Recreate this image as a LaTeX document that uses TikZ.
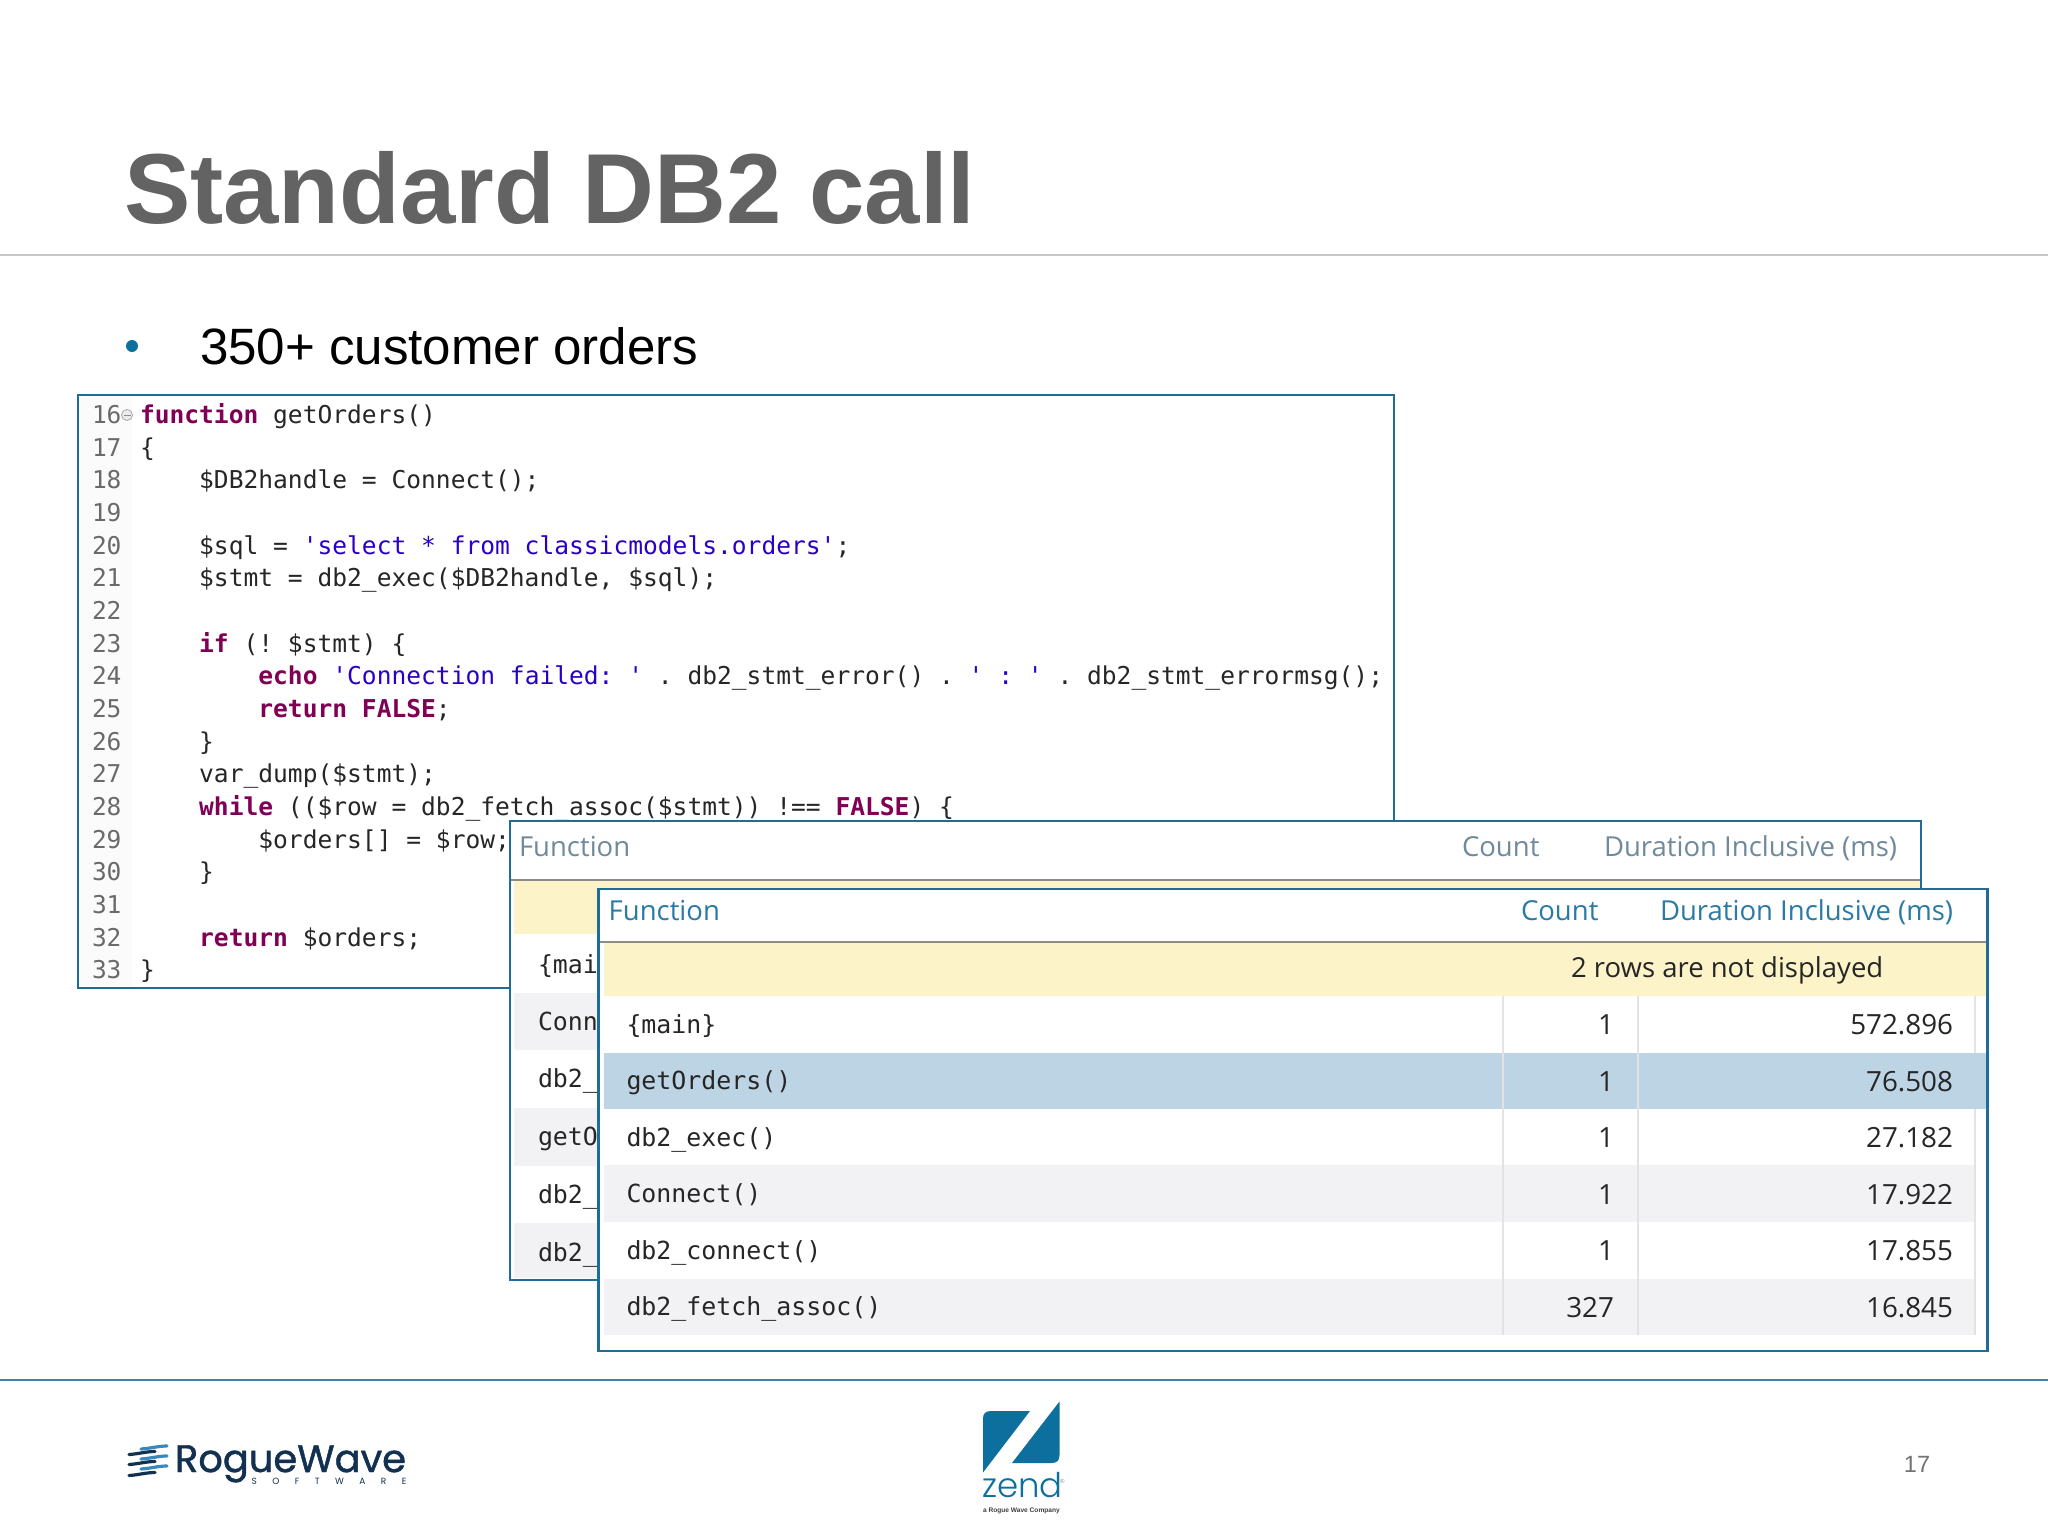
\documentclass[tikz,border=0pt]{standalone}
\usepackage{fontspec}
\setmainfont{Liberation Sans}
\newfontfamily\codefont{DejaVu Sans Mono}
\newfontfamily\uifont{Open Sans}
\newfontfamily\logofont{Poppins}[FakeBold=1.2]
\newfontfamily\swfont{Poppins}
\newfontfamily\zendfont{Poppins}[UprightFont=* Light]
\definecolor{boxblue}{HTML}{1F6D96}
\definecolor{titlegray}{HTML}{636363}
\definecolor{kwcol}{HTML}{7F0055}
\definecolor{strcol}{HTML}{2A00C8}
\definecolor{codecol}{HTML}{262626}
\definecolor{numcol}{HTML}{6A6A6A}
\definecolor{rowgray}{HTML}{F2F2F4}
\definecolor{rowyellow}{HTML}{FDF3C8}
\definecolor{rowblue}{HTML}{BDD4E5}
\definecolor{headfront}{HTML}{2A7AA6}
\definecolor{headback}{HTML}{6F8A9C}
\definecolor{zendblue}{HTML}{0D6F9E}
\definecolor{rwnavy}{HTML}{12304F}
\definecolor{rwlight}{HTML}{3A87BD}
\newcommand{\kw}[1]{\textcolor{kwcol}{\bfseries #1}}
\newcommand{\strg}[1]{\textcolor{strcol}{#1}}
\tikzset{
  base text/.style={inner sep=0pt,outer sep=0pt},
  codet/.style={base text,anchor=base west,font=\codefont\fontsize{24.58}{28}\selectfont\frenchspacing,text=codecol},
  numt/.style={base text,anchor=base west,font=\codefont\fontsize{24.5}{28}\selectfont,text=numcol},
  rowt/.style={base text,anchor=base west,font=\codefont\fontsize{24.9}{28}\selectfont\frenchspacing,text=codecol},
  numr/.style={base text,anchor=base east,font=\uifont\fontsize{27.8}{30}\selectfont,text=codecol},
  headf/.style={base text,anchor=base west,font=\uifont\fontsize{27.5}{30}\selectfont,text=headfront},
  headb/.style={base text,anchor=base west,font=\uifont\fontsize{27.5}{30}\selectfont,text=headback},
  panel/.style={draw=boxblue,line width=2.5pt,fill=white},
  sep/.style={draw=black!11,line width=1.5pt},
}
\newcommand{\cl}[3]{\node[codet] (code#1) at ({140+14.8*#2},{423.6+32.65*(#1-16)}) {#3};}
\begin{document}
\begin{tikzpicture}[x=1pt,y=-1pt]
\useasboundingbox (0,0) rectangle (2048,1536);
\fill[white] (0,0) rectangle (2048,1536);
% title
\node[base text,anchor=base west,font=\fontsize{99.5}{110}\selectfont\bfseries,text=titlegray] (title) at (124,223) {Standard DB2 call};
\draw[black!22,line width=2pt] (0,255) -- (2048,255);
\fill[zendblue] (132,346) circle (6);
\node[base text,anchor=base west,font=\fontsize{51.1}{60}\selectfont,text=black] (bullet) at (200,364.5) {350+ customer orders};
% code panel
\draw[panel] (78,395) rectangle (1394,988);
\fill[black!1.5] (80,397) rectangle (132,986);
\foreach \n in {16,...,33} { \node[numt] (num\n) at (92,{423.6+32.65*(\n-16)}) {\n}; }
\draw[black!35,fill=black!8,line width=.8pt] (127,415) circle (5.5);
\draw[black!45,line width=1pt] (123.5,415) -- (130.5,415);
\cl{16}{0}{\kw{function} getOrders()}
\cl{17}{0}{\{}
\cl{18}{4}{\$DB2handle = Connect();}
\cl{20}{4}{\$sql = \strg{'select * from classicmodels.orders'};}
\cl{21}{4}{\$stmt = db2\_exec(\$DB2handle, \$sql);}
\cl{23}{4}{\kw{if} (! \$stmt) \{}
\cl{24}{8}{\kw{echo} \strg{'Connection failed: '} . db2\_stmt\_error() . \strg{' : '} . db2\_stmt\_errormsg();}
\cl{25}{8}{\kw{return} \kw{FALSE};}
\cl{26}{4}{\}}
\cl{27}{4}{var\_dump(\$stmt);}
\cl{28}{4}{\kw{while} ((\$row = db2\_fetch\_assoc(\$stmt)) !== \kw{FALSE}) \{}
\cl{29}{8}{\$orders[] = \$row;}
\cl{30}{4}{\}}
\cl{32}{4}{\kw{return} \$orders;}
\cl{33}{0}{\}}
% middle panel
\draw[panel] (510,821) rectangle (1921,1280);
\fill[rowyellow] (514,880) rectangle (1920,934);
\fill[rowgray] (514,993) rectangle (598,1050);
\fill[rowgray] (514,1108) rectangle (598,1166);
\fill[rowgray] (514,1223) rectangle (598,1278);
\draw[black!45,line width=2pt] (511,880) -- (1920,880);
\node[headb] (mfunc) at (519,856) {Function};
\node[headb] (mcount) at (1462,856) {Count};
\node[headb] (mdur) at (1604,856) {Duration Inclusive (ms)};
\node[rowt] (m1) at (538,973) {\{mai};
\node[rowt] (m2) at (538,1030) {Conn};
\node[rowt] (m3) at (538,1087) {db2\_};
\node[rowt] (m4) at (538,1145) {getO};
\node[rowt] (m5) at (538,1203) {db2\_};
\node[rowt] (m6) at (538,1261) {db2\_};
% front panel
\draw[panel] (598.5,889) rectangle (1987.5,1351);
\fill[rowyellow] (604,943) rectangle (1986,996);
\fill[rowblue] (604,1052.5) rectangle (1986,1109);
\fill[rowgray] (604,1165) rectangle (1975,1222);
\fill[rowgray] (604,1278.6) rectangle (1975,1335);
\draw[black!45,line width=2pt] (600,942) -- (1986,942);
\foreach \sx in {1503,1638,1975} { \draw[sep] (\sx,996) -- (\sx,1335); }
\fill[rowblue] (1974,1052.5) rectangle (1986,1109);
\node[headf] (ffunc) at (608.7,920) {Function};
\node[headf] (fcount) at (1521,920) {Count};
\node[headf] (fdur) at (1660,920) {Duration Inclusive (ms)};
\node[base text,anchor=base west,font=\uifont\fontsize{27.5}{30}\selectfont,text=codecol] (hidden) at (1571,977.5) {2 rows are not displayed};
\node[rowt] (f1) at (626.5,1033) {\{main\}};
\node[rowt] (f2) at (626.5,1089) {getOrders()};
\node[rowt] (f3) at (626.5,1146) {db2\_exec()};
\node[rowt] (f4) at (626.5,1202) {Connect()};
\node[rowt] (f5) at (626.5,1259) {db2\_connect()};
\node[rowt] (f6) at (626.5,1315) {db2\_fetch\_assoc()};
\node[numr] (c1) at (1614,1034) {1};
\node[numr] (c2) at (1614,1091) {1};
\node[numr] (c3) at (1614,1147.5) {1};
\node[numr] (c4) at (1614,1204) {1};
\node[numr] (c5) at (1614,1260.5) {1};
\node[numr] (c6) at (1614,1317) {327};
\node[numr] (d1) at (1953,1034) {572.896};
\node[numr] (d2) at (1953,1091) {76.508};
\node[numr] (d3) at (1953,1147.5) {27.182};
\node[numr] (d4) at (1953,1204) {17.922};
\node[numr] (d5) at (1953,1260.5) {17.855};
\node[numr] (d6) at (1953,1317) {16.845};
% footer
\draw[boxblue!85,line width=2pt] (0,1380) -- (2048,1380);
\node[base text,anchor=base,font=\fontsize{23.5}{28}\selectfont,text=black!55] (pagenum) at (1917,1472) {17};
% rogue wave logo
\foreach \yy in {1453,1463,1474} {
  \draw[rwnavy,line width=3.2pt,line cap=round] (129,\yy+1.5) .. controls (138,\yy+1) and (146,\yy-1.5) .. (155,\yy-1.5);
}
\foreach \yy in {1447.5,1457.5,1467.5} {
  \draw[rwlight,line width=3.2pt,line cap=round] (141,\yy+1.5) .. controls (150,\yy+1) and (158,\yy-1.5) .. (167,\yy-1.5);
}
\node[base text,anchor=base west,font=\logofont\fontsize{44}{50}\selectfont,text=rwnavy] (rw) at (175,1472) {\resizebox{231pt}{!}{RogueWave}};
\node[base text,anchor=base west,font=\swfont\fontsize{9}{10}\selectfont,text=rwnavy] (sw) at (251.5,1484.5) {\makebox[155pt][s]{S\hfill O\hfill F\hfill T\hfill W\hfill A\hfill R\hfill E}};
% zend logo
\fill[zendblue] (983,1472.5) -- (983,1419) .. controls (983,1413.5) and (985.5,1411) .. (991,1411) -- (1030,1411) -- cycle;
\fill[zendblue] (1059.5,1401.5) -- (1059.5,1455) .. controls (1059.5,1460.5) and (1057,1463) .. (1051.5,1463) -- (1012,1463) -- cycle;
\node[base text,anchor=base west,font=\zendfont\fontsize{34}{36}\selectfont,text=zendblue] (zend) at (982,1497.5) {zend};
\node[base text,anchor=base west,font=\fontsize{6}{7}\selectfont,text=black!45] (reg) at (1060,1483) {®};
\node[base text,anchor=base west,font=\fontsize{6.6}{8}\selectfont\bfseries,text=black!75] (zsub) at (983,1512) {a Rogue Wave Company};
\end{tikzpicture}
\end{document}
